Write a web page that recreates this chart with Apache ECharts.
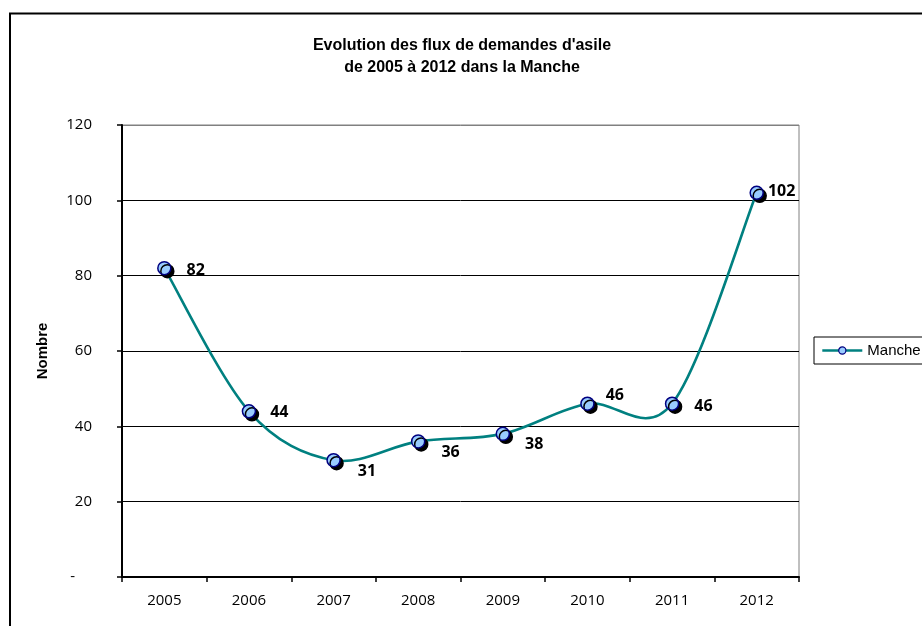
<!DOCTYPE html>
<html>
<head>
<meta charset="utf-8">
<script src="https://cdn.jsdelivr.net/npm/echarts@6/dist/echarts.min.js"></script>
<style>
  html, body { margin: 0; padding: 0; background: #fff; }
  #chart { width: 922px; height: 626px; }
</style>
</head>
<body>
<div id="chart"></div>
<script>
// donnees
const years = ["2005", "2006", "2007", "2008", "2009", "2010", "2011", "2012"];
const manche = [82, 44, 31, 36, 38, 46, 46, 102];

// petit decalage des etiquettes (comme Excel les place)
const labelNudge = [[0, 2], [-1, 1], [2, 11], [1, 11], [0, 11], [-4, -8], [0, 3], [-11, -1]];

const chart = echarts.init(document.getElementById("chart"));

const points = manche.map((v, i) => ({
  value: v,
  label: { offset: labelNudge[i] },
}));

// courbe lissee facon Excel (Catmull-Rom, tension 1/6) a partir des coords de l'axe
function renderSmoothLine(params, api) {
  if (params.dataIndex !== 0) return null;
  const pts = manche.map((v, i) => api.coord([i, v]));
  let d = "M" + pts[0][0] + " " + pts[0][1];
  for (let i = 0; i < pts.length - 1; i++) {
    const p0 = pts[Math.max(i - 1, 0)];
    const p1 = pts[i];
    const p2 = pts[i + 1];
    const p3 = pts[Math.min(i + 2, pts.length - 1)];
    const c1x = p1[0] + (p2[0] - p0[0]) / 6;
    const c1y = p1[1] + (p2[1] - p0[1]) / 6;
    const c2x = p2[0] - (p3[0] - p1[0]) / 6;
    const c2y = p2[1] - (p3[1] - p1[1]) / 6;
    d += " C" + c1x + " " + c1y + " " + c2x + " " + c2y + " " + p2[0] + " " + p2[1];
  }
  return {
    type: "path",
    shape: { pathData: d },
    style: { fill: "none", stroke: "#008080", lineWidth: 2.6 },
    silent: true,
  };
}

chart.setOption({
  animation: false,
  backgroundColor: "#fff",
  title: {
    text: "Evolution des flux de demandes d'asile\nde 2005 à 2012 dans la Manche",
    left: 457,
    textAlign: "center",
    top: 30,
    textStyle: {
      fontFamily: "Liberation Sans, Arial",
      fontSize: 16,
      fontWeight: "bold",
      lineHeight: 22,
      color: "#000",
    },
  },
  legend: {
    left: 814,
    top: 337,
    orient: "vertical",
    borderColor: "#000",
    borderWidth: 1,
    borderRadius: 0,
    padding: [6, 40, 6, 7],
    itemWidth: 40,
    itemHeight: 9,
    itemGap: 5,
    textStyle: { fontFamily: "Liberation Sans, Arial", fontSize: 15, color: "#000" },
    lineStyle: { color: "#008080", width: 2.6, opacity: 1 },
    itemStyle: { shadowColor: "transparent", shadowOffsetX: 0, shadowOffsetY: 0, borderWidth: 1.2 },
    data: ["Manche"],
  },
  grid: {
    left: 122,
    right: 123,
    top: 125,
    bottom: 49,
    show: true,
    borderColor: "#808080",
    borderWidth: 1,
  },
  xAxis: {
    type: "category",
    data: years,
    boundaryGap: true,
    axisLine: { lineStyle: { color: "#000", width: 2 } },
    axisTick: { show: true, inside: false, length: 5, lineStyle: { color: "#000", width: 1.5 } },
    axisLabel: {
      margin: 16,
      fontFamily: "Open Sans",
      fontSize: 15,
      color: "#000",
    },
    splitLine: { show: false },
  },
  yAxis: {
    type: "value",
    min: 0,
    max: 120,
    interval: 20,
    name: "Nombre",
    nameLocation: "middle",
    nameGap: 72,
    nameRotate: 90,
    nameTextStyle: {
      fontFamily: "Liberation Sans, Arial",
      fontSize: 15,
      fontWeight: "bold",
      color: "#000",
    },
    axisLine: { show: true, lineStyle: { color: "#000", width: 2 } },
    axisTick: { show: true, inside: false, length: 5, lineStyle: { color: "#000", width: 1.5 } },
    axisLabel: {
      margin: 30,
      fontFamily: "Open Sans",
      fontSize: 15,
      color: "#000",
      formatter: (v) => (v === 0 ? "{d|-}" : String(v)),
      rich: { d: { fontFamily: "Open Sans", fontSize: 15, color: "#000", padding: [0, 17, 0, 0] } },
    },
    splitLine: {
      show: true,
      lineStyle: {
        color: ["#000", "#000", "#000", "#000", "#000", "#000", "#808080"],
        width: 1,
      },
    },
  },
  graphic: [
    {
      type: "rect",
      silent: true,
      shape: { x: 10, y: 13.5, width: 1000, height: 1000 },
      style: { fill: "none", stroke: "#000", lineWidth: 2 },
    },
  ],
  series: [
    {
      name: "ManchePath",
      type: "custom",
      renderItem: renderSmoothLine,
      data: manche.map((v, i) => [i, v]),
      encode: { x: 0, y: 1 },
      z: 1,
    },
    {
      name: "Manche",
      type: "line",
      data: points,
      symbol: "circle",
      symbolSize: 13,
      z: 2,
      lineStyle: { color: "#008080", width: 2.6, opacity: 0 },
      itemStyle: {
        color: "#99CCFF",
        borderColor: "#000080",
        borderWidth: 1.5,
        shadowColor: "#000",
        shadowBlur: 0,
        shadowOffsetX: 3,
        shadowOffsetY: 3,
      },
      label: {
        show: true,
        position: "right",
        distance: 15,
        fontFamily: "Open Sans",
        fontSize: 16,
        fontWeight: "bold",
        color: "#000",
      },
      emphasis: { disabled: true },
    },
  ],
});
</script>
</body>
</html>
